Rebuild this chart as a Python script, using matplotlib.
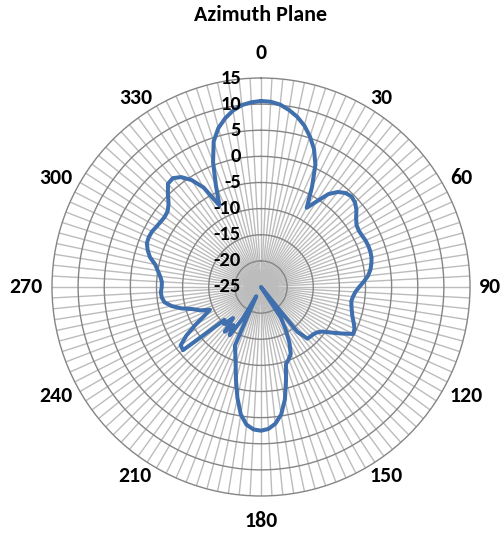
import numpy as np
import matplotlib
matplotlib.use("Agg")
import matplotlib.pyplot as plt
from matplotlib.transforms import offset_copy
from matplotlib import font_manager
from matplotlib.font_manager import FontProperties
from matplotlib.textpath import TextPath

# ---- data -------------------------------------------------------------
angles_deg = list(range(0, 360, 3))
gain_db = [
    10.6, 10.5, 10.1, 9.3, 8.3, 7.0, 5.3, 3.3, 0.6, -3.5,      # 0-27
    -7.5, -5.5, -3.0, -1.6, -0.8, -0.5, -0.8, -1.5, -2.5, -3.2,  # 30-57
    -3.4, -3.3, -3.1, -3.0, -3.0, -3.1, -3.4, -3.8, -4.4, -5.3,  # 60-87
    -6.2, -6.9, -7.3, -7.5, -7.3, -7.0, -6.6, -6.0, -5.4, -5.2,  # 90-117
    -7.2, -9.0, -10.5, -11.2, -11.5, -11.6, -11.7, -14.0, -25.0, -18.0,  # 120-147
    -15.5, -13.0, -11.0, -10.2, -9.5, -6.5, -3.0, -0.3, 1.3, 2.2,  # 150-177
    2.5, 2.3, 1.5, -0.3, -3.3, -6.5, -9.3, -11.3, -12.7, -23.0,   # 180-207
    -18.0, -14.0, -16.0, -14.0, -17.0, -15.0, -15.6, -5.8, -6.0, -8.0,  # 210-237
    -10.5, -12.8, -14.3, -12.5, -11.3, -9.2, -7.5, -6.3, -5.9, -5.8,  # 240-267
    -6.0, -6.0, -5.6, -5.0, -4.3, -3.0, -2.2, -1.6, -1.5, -1.6,   # 270-297
    -1.9, -2.1, -2.2, -2.0, -1.2, 0.2, 1.6, 1.8, 1.0, -0.6,      # 300-327
    -3.0, -7.5, -3.8, 0.6, 4.3, 6.5, 8.0, 9.2, 10.0, 10.4,       # 330-357
]
ring_values = [-25, -20, -15, -10, -5, 0, 5, 10, 15]
category_labels = ["0", "30", "60", "90", "120", "150", "180",
                   "210", "240", "270", "300", "330"]
category_angles = [0, 30, 60, 90, 120, 150, 180, 210, 240, 270, 300, 330]
title = "Azimuth Plane"

# ---- pick a sans family that really has a bold face -------------------
def _w(e):
    w = e.weight
    if isinstance(w, str):
        return {"bold": 700, "heavy": 800, "black": 900, "semibold": 600,
                "demibold": 600, "extra bold": 800}.get(w.lower(), 400)
    return w

bold_families = {e.name for e in font_manager.fontManager.ttflist if _w(e) >= 600}
FONT = "DejaVu Sans"
for cand in ["Carlito", "Lato", "Open Sans", "Noto Sans", "Roboto",
             "Liberation Sans", "DejaVu Sans"]:
    if cand in bold_families:
        FONT = cand
        break
FP = FontProperties(family=FONT, weight="bold")


def size_for(text, target_px, dpi):
    w = TextPath((0, 0), text, size=1, prop=FP).get_extents().width
    return target_px / (w * dpi / 72.0)


# ---- figure -----------------------------------------------------------
W, H, DPI = 504, 536, 100
fig = plt.figure(figsize=(W / DPI, H / DPI), dpi=DPI)
fig.patch.set_facecolor("white")

cx, cy, R = 261, 287, 209
ax = fig.add_axes([(cx - R) / W, (H - cy - R) / H, 2 * R / W, 2 * R / H],
                  projection="polar")
ax.set_theta_zero_location("N")
ax.set_theta_direction(-1)
ax.set_ylim(ring_values[0], ring_values[-1])
ax.set_facecolor("white")

# spokes (one per category) and rings
theta = np.deg2rad(angles_deg)
ax.set_xticks(theta)
ax.set_xticklabels([])
ax.set_yticks(ring_values[1:-1])
ax.set_yticklabels([])
ax.tick_params(axis="both", length=0)
ax.xaxis.grid(True, color="#bcbcbc", linewidth=1.0)
ax.yaxis.grid(True, color="#858585", linewidth=1.0)
ax.spines["polar"].set_color("#858585")
ax.spines["polar"].set_linewidth(1.0)

# data line (closed)
th_closed = np.append(theta, theta[0])
g_closed = np.append(np.maximum(gain_db, ring_values[0]),
                     max(gain_db[0], ring_values[0]))
ax.plot(th_closed, g_closed, color="#3f6fad", linewidth=2.9,
        solid_joinstyle="round", solid_capstyle="round", zorder=5)

# radial value labels, right-aligned just left of the 0-degree spoke
fs_r = size_for("15", 18.5, DPI)
tr = offset_copy(ax.transData, fig=fig, x=-20, y=0, units="dots")
for v in ring_values:
    ax.text(0, v, str(v), transform=tr, ha="right", va="center",
            fontsize=fs_r, fontweight="bold", family=FONT, color="black",
            zorder=6, clip_on=False)

# category labels outside the circle
fs_c = size_for("90", 20.5, DPI)
for lab, a in zip(category_labels, category_angles):
    s, c = np.sin(np.deg2rad(a)), np.cos(np.deg2rad(a))
    if abs(s) < 0.1:
        gap = 15
        ha = "center"
        va = "bottom" if c > 0 else "top"
    else:
        gap = 9
        ha = "left" if s > 0 else "right"
        va = "center"
    px = cx + (R + gap) * s
    py = cy - (R + gap) * c
    fig.text(px / W, 1 - py / H, lab, ha=ha, va=va, fontsize=fs_c,
             fontweight="bold", family=FONT, color="black")

fs_t = size_for(title, 132, DPI)
fig.text(261 / W, 1 - 15 / H, title, ha="center", va="center",
         fontsize=fs_t, fontweight="bold", family=FONT, color="black")

fig.savefig("out.png", dpi=DPI, facecolor="white")
